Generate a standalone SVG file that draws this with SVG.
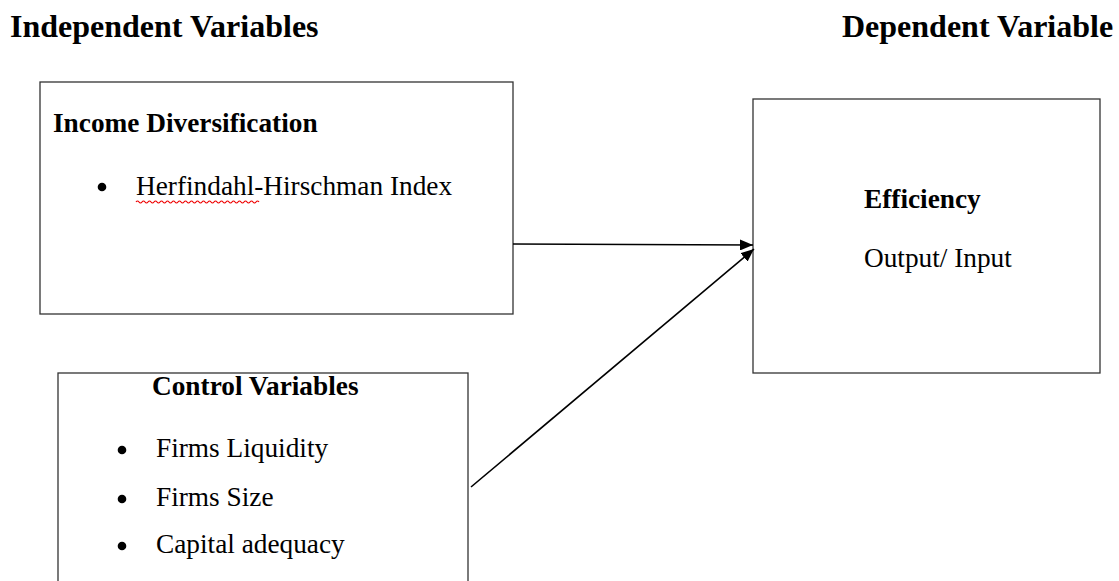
<svg xmlns="http://www.w3.org/2000/svg" width="1119" height="581" viewBox="0 0 1119 581">
<style>
.box{fill:#fff;stroke:#333;stroke-width:1.3}
.t{font-family:"Liberation Serif","Times New Roman",serif;fill:#000}
.h{font-size:32px;font-weight:bold}
.b{font-size:27.3px;font-weight:bold}
.r{font-size:27.3px}
.conn{stroke:#000;stroke-width:1.6;fill:none}
</style>
<defs>
<marker id="ah" viewBox="0 0 13 11" refX="13" refY="5.5" markerWidth="13" markerHeight="11" markerUnits="userSpaceOnUse" orient="auto">
<path d="M0,0 L13,5.5 L0,11 z" fill="#000"/>
</marker>
</defs>
<rect width="1119" height="581" fill="#fff"/>
<text class="t h" x="10" y="37">Independent Variables</text>
<text class="t h" x="842" y="37">Dependent Variable</text>
<g id="income">
<rect class="box" x="40" y="82" width="473" height="232"/>
<text class="t b" x="53" y="132">Income Diversification</text>
<circle cx="102" cy="187" r="4.3" fill="#000"/>
<text class="t r" x="136" y="195">Herfindahl-Hirschman Index</text>
<path d="M136,202 q1.5,-2 3,0 t3,0 t3,0 t3,0 t3,0 t3,0 t3,0 t3,0 t3,0 t3,0 t3,0 t3,0 t3,0 t3,0 t3,0 t3,0 t3,0 t3,0 t3,0 t3,0 t3,0 t3,0 t3,0 t3,0 t3,0 t3,0 t3,0 t3,0 t3,0 t3,0 t3,0 t3,0 t3,0 t3,0 t3,0 t3,0 t3,0 t3,0 t3,0 t3,0 t3,0" fill="none" stroke="#e00" stroke-width="1.2"/>
</g>
<g id="efficiency">
<rect class="box" x="753" y="99" width="347" height="274"/>
<text class="t b" x="864" y="208">Efficiency</text>
<text class="t r" x="864" y="267">Output/ Input</text>
</g>
<g id="control">
<rect class="box" x="58" y="373" width="410" height="240"/>
<text class="t b" x="152" y="395">Control Variables</text>
<circle cx="122" cy="450" r="4.3" fill="#000"/>
<text class="t r" x="156" y="457">Firms Liquidity</text>
<circle cx="122" cy="499" r="4.3" fill="#000"/>
<text class="t r" x="156" y="506">Firms Size</text>
<circle cx="122" cy="546" r="4.3" fill="#000"/>
<text class="t r" x="156" y="553">Capital adequacy</text>
</g>
<g id="connectors">
<line class="conn" x1="513" y1="244" x2="753" y2="245" marker-end="url(#ah)"/>
<line class="conn" x1="471" y1="487" x2="754" y2="249" marker-end="url(#ah)"/>
</g>
</svg>
